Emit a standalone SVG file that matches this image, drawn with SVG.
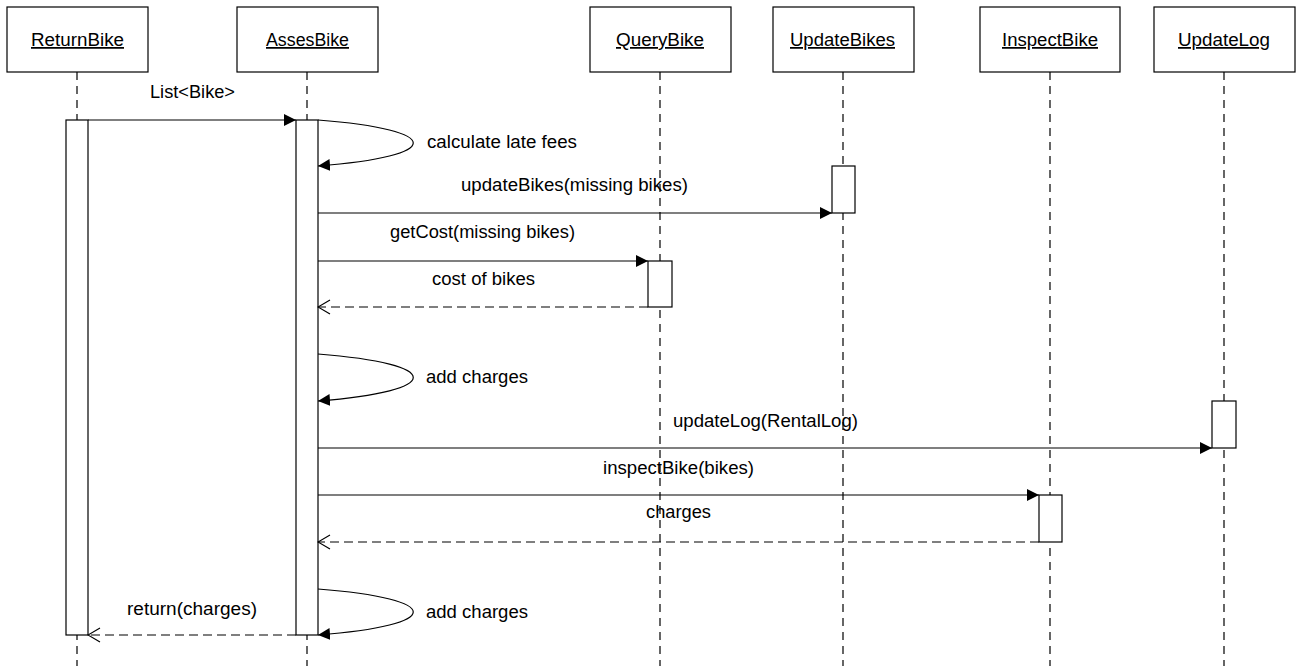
<svg xmlns="http://www.w3.org/2000/svg" width="1297" height="666" viewBox="0 0 1297 666">
  <style>
    .box { fill: #fff; stroke: #000; stroke-width: 1.2; }
    .act { fill: #fff; stroke: #000; stroke-width: 1.2; }
    .life { stroke: #000; stroke-width: 1.2; stroke-dasharray: 8 6; fill: none; }
    .msg { stroke: #000; stroke-width: 1.2; fill: none; marker-end: url(#solid); }
    .ret { stroke: #000; stroke-width: 1.2; fill: none; stroke-dasharray: 9 5; marker-end: url(#open); }
    .lbl { font-family: "Liberation Sans", Arial, sans-serif; font-size: 17.5px; fill: #000; }
    .title { font-family: "Liberation Sans", Arial, sans-serif; font-size: 17.5px; fill: #000; text-decoration: underline; }
  </style>
  <defs>
    <marker id="solid" markerUnits="userSpaceOnUse" markerWidth="13" markerHeight="13" refX="12" refY="6" orient="auto">
      <path d="M0,0 L12,6 L0,12 z" fill="#000"/>
    </marker>
    <marker id="open" markerUnits="userSpaceOnUse" markerWidth="14" markerHeight="16" refX="13" refY="8" orient="auto">
      <path d="M1,1 L13,8 L1,15" fill="none" stroke="#000" stroke-width="1.2"/>
    </marker>
  </defs>
  <rect width="1297" height="666" fill="#fff"/>

  <!-- lifelines -->
  <g id="lifelines">
    <line class="life" x1="77" y1="72" x2="77" y2="666"/>
    <line class="life" x1="307" y1="72" x2="307" y2="666"/>
    <line class="life" x1="660" y1="72" x2="660" y2="666"/>
    <line class="life" x1="843" y1="72" x2="843" y2="666"/>
    <line class="life" x1="1050" y1="72" x2="1050" y2="666"/>
    <line class="life" x1="1224" y1="72" x2="1224" y2="666"/>
  </g>

  <!-- participants -->
  <g id="ReturnBike">
    <rect class="box" x="7" y="7" width="141" height="65"/>
    <text class="title" x="31" y="46" textLength="93" lengthAdjust="spacingAndGlyphs">ReturnBike</text>
    <rect class="act" x="66" y="120" width="22" height="515"/>
  </g>
  <g id="AssesBike">
    <rect class="box" x="237" y="7" width="141" height="65"/>
    <text class="title" x="266" y="46" textLength="83" lengthAdjust="spacingAndGlyphs">AssesBike</text>
    <rect class="act" x="296" y="120" width="22" height="515"/>
  </g>
  <g id="QueryBike">
    <rect class="box" x="590" y="7" width="141" height="65"/>
    <text class="title" x="616" y="46" textLength="88" lengthAdjust="spacingAndGlyphs">QueryBike</text>
    <rect class="act" x="648" y="261" width="24" height="46"/>
  </g>
  <g id="UpdateBikes">
    <rect class="box" x="773" y="7" width="141" height="65"/>
    <text class="title" x="790" y="46" textLength="105" lengthAdjust="spacingAndGlyphs">UpdateBikes</text>
    <rect class="act" x="832" y="166" width="23" height="47"/>
  </g>
  <g id="InspectBike">
    <rect class="box" x="980" y="7" width="140" height="65"/>
    <text class="title" x="1002" y="46" textLength="96" lengthAdjust="spacingAndGlyphs">InspectBike</text>
    <rect class="act" x="1039" y="495" width="23" height="47"/>
  </g>
  <g id="UpdateLog">
    <rect class="box" x="1154" y="7" width="141" height="65"/>
    <text class="title" x="1178" y="46" textLength="92" lengthAdjust="spacingAndGlyphs">UpdateLog</text>
    <rect class="act" x="1212" y="401" width="24" height="47"/>
  </g>

  <!-- messages -->
  <g id="connectors">
    <line class="msg" x1="88" y1="120" x2="296" y2="120"/>
    <path class="msg" d="M318,120 C445,130 445,156 318,166"/>
    <line class="msg" x1="318" y1="213" x2="832" y2="213"/>
    <line class="msg" x1="318" y1="261" x2="648" y2="261"/>
    <line class="ret" x1="648" y1="307" x2="318" y2="307"/>
    <path class="msg" d="M318,354 C445,364 445,391 318,401"/>
    <line class="msg" x1="318" y1="448" x2="1212" y2="448"/>
    <line class="msg" x1="318" y1="495" x2="1039" y2="495"/>
    <line class="ret" x1="1039" y1="542" x2="318" y2="542"/>
    <path class="msg" d="M318,589 C445,599 445,625 318,635"/>
    <line class="ret" x1="296" y1="635" x2="88" y2="635"/>
  </g>

  <!-- message labels -->
  <g id="labels">
    <text class="lbl" x="150" y="98" textLength="85" lengthAdjust="spacingAndGlyphs">List&lt;Bike&gt;</text>
    <text class="lbl" x="427" y="148" textLength="150" lengthAdjust="spacingAndGlyphs">calculate late fees</text>
    <text class="lbl" x="461" y="191" textLength="227" lengthAdjust="spacingAndGlyphs">updateBikes(missing bikes)</text>
    <text class="lbl" x="390" y="238" textLength="185" lengthAdjust="spacingAndGlyphs">getCost(missing bikes)</text>
    <text class="lbl" x="432" y="285" textLength="103" lengthAdjust="spacingAndGlyphs">cost of bikes</text>
    <text class="lbl" x="426" y="383" textLength="102" lengthAdjust="spacingAndGlyphs">add charges</text>
    <text class="lbl" x="673" y="427" textLength="185" lengthAdjust="spacingAndGlyphs">updateLog(RentalLog)</text>
    <text class="lbl" x="603" y="474" textLength="151" lengthAdjust="spacingAndGlyphs">inspectBike(bikes)</text>
    <text class="lbl" x="646" y="518" textLength="65" lengthAdjust="spacingAndGlyphs">charges</text>
    <text class="lbl" x="426" y="618" textLength="102" lengthAdjust="spacingAndGlyphs">add charges</text>
    <text class="lbl" x="127" y="615" textLength="130" lengthAdjust="spacingAndGlyphs">return(charges)</text>
  </g>
</svg>
